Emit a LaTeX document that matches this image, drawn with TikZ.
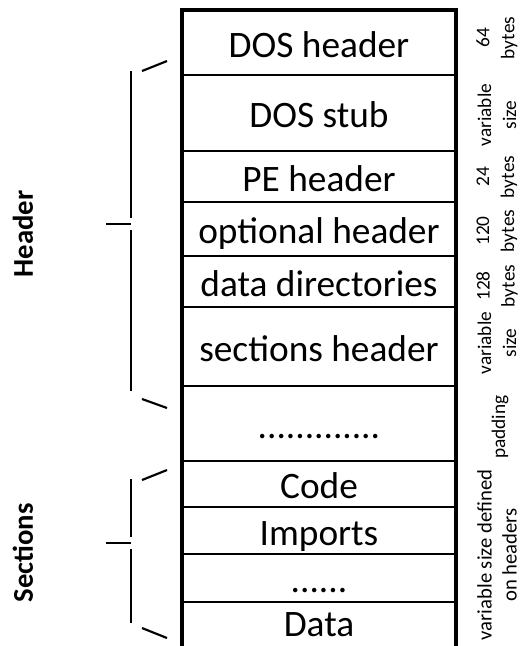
\documentclass[tikz,border=0pt]{standalone}
\usepackage{fontspec}
\setmainfont{Carlito}
\usetikzlibrary{positioning}

\tikzset{
  cell/.style={minimum width=205.5pt, inner sep=0pt, outer sep=0pt,
    font=\fontsize{28}{30}\selectfont, text height=21.8pt, text depth=0pt},
  note/.style={rotate=90, align=center, inner sep=0pt,
    font=\fontsize{14.5}{18.75}\selectfont},
  part/.style={rotate=90, inner sep=0pt, font=\fontsize{21.5}{24}\selectfont\bfseries},
  rule/.style={line width=2.2pt},
  frame/.style={line width=3pt},
  arm/.style={line width=1.6pt},
  stem/.style={line width=1.1pt},
}

\begin{document}
\begin{tikzpicture}[x=0.75pt, y=-0.75pt]
  \useasboundingbox (0,0) rectangle (522,646);
  \coordinate (bot) at (0,660);

  % the file layout
  \node[cell, minimum height=48.75pt] (dosh) at (319,42.5) {DOS header};
  \node[cell, minimum height=57pt, below=0pt of dosh] (stub) {DOS stub};
  \node[cell, minimum height=38.25pt, below=0pt of stub] (peh) {PE header};
  \node[cell, minimum height=40.5pt, below=0pt of peh] (opt) {optional header};
  \node[cell, minimum height=38.25pt, below=0pt of opt] (ddir) {data directories};
  \node[cell, minimum height=59.25pt, below=0pt of ddir] (sech) {sections header};
  \node[cell, minimum height=56.25pt, below=0pt of sech] (pad) {.............};
  \node[cell, minimum height=34.5pt, below=0pt of pad] (code) {Code};
  \node[cell, minimum height=35.25pt, below=0pt of code] (imp) {Imports};
  \node[cell, minimum height=36pt, below=0pt of imp] (more) {......};
  \node[cell, minimum height=30pt, below=0pt of more] (data) {Data};

  \draw[frame] (bot -| dosh.west) -- (dosh.north west) -- (dosh.north east) -- (bot -| dosh.east);
  \foreach \c in {dosh,stub,peh,opt,ddir,sech,pad,code,imp,more}
    \draw[rule] (\c.south west) -- (\c.south east);

  % sizes
  \node[note] (s1) at (497,38) {64\\bytes};
  \node[note] (s2) at (497,115) {variable\\size};
  \node[note] (s3) at (497,177) {24\\bytes};
  \node[note] (s4) at (497,231) {120\\bytes};
  \node[note] (s5) at (497,286) {128\\bytes};
  \node[note] (s6) at (497,343) {variable\\size};
  \node[note] (s7) at (500,427) {padding};
  \node[note, font=\fontsize{15.5}{18.75}\selectfont] (s8) at (497,555) {variable size defined\\on headers};

  % braces
  \draw[arm] (142,71) -- (167,61);
  \draw[stem] (131,71) -- (131,218) (131,230) -- (131,391);
  \draw[arm] (106,224) -- (131,224);
  \draw[arm] (142,399) -- (167,408);
  \node[part] (hdr) at (23,234) {Header};

  \draw[arm] (142,480) -- (167,470);
  \draw[stem] (131,479) -- (131,537) (131,549) -- (131,623);
  \draw[arm] (106,543) -- (131,543);
  \draw[arm] (142,628) -- (167,638);
  \node[part] (sec) at (23,553) {Sections};
\end{tikzpicture}
\end{document}
